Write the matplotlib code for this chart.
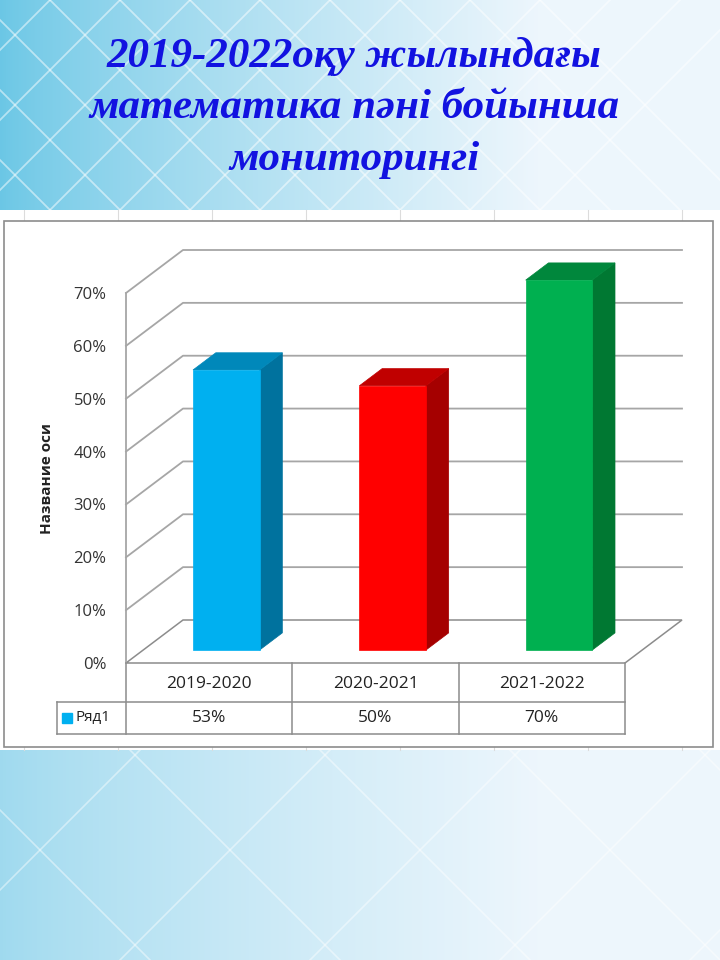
import numpy as np
import matplotlib.pyplot as plt
from matplotlib.patches import Polygon, Rectangle

# data
categories = ["2019-2020", "2020-2021", "2021-2022"]
values = [53, 50, 70]
value_labels = ["53%", "50%", "70%"]
series_name = "Ряд1"
yticks = [0, 10, 20, 30, 40, 50, 60, 70]
title_lines = ["2019-2022оқу жылындағы", "математика пәні бойынша", "мониторингі"]
axis_title = "Название оси"

front_colors = ["#00B0F0", "#FF0000", "#00B050"]
side_colors = ["#00729E", "#A50000", "#007832"]
top_colors = ["#0088BA", "#C00000", "#00873C"]

W, H = 720, 960
fig = plt.figure(figsize=(W / 100, H / 100), dpi=100)

# ---- slide background -------------------------------------------------
bg = fig.add_axes([0, 0, 1, 1])
bg.set_xlim(0, W)
bg.set_ylim(H, 0)
bg.axis("off")
gx = np.linspace(0, 1, 240)
gy = np.linspace(0, 1, 320)
X, Y = np.meshgrid(gx, gy)
t = np.clip(X / 0.75, 0, 1) ** 0.8
t = np.where(Y > 0.7, 0.4 + 0.6 * t, t)   # lower part of the slide is paler
left = np.array([0.42, 0.78, 0.90])
right = np.array([0.93, 0.965, 0.99])
img = left[None, None, :] * (1 - t[..., None]) + right[None, None, :] * t[..., None]
bg.imshow(img, extent=(0, W, H, 0), aspect="auto", zorder=0)
for x0 in range(-300, 560, 70):
    bg.plot([x0, x0 + 210], [0, 210], color="white", lw=1.3, alpha=0.5, zorder=1)
    bg.plot([x0 + 210, x0], [0, 210], color="white", lw=1.3, alpha=0.5, zorder=1)
for x0 in range(-300, 800, 190):
    bg.plot([x0, x0 + 300], [700, H + 40], color="white", lw=1.2, alpha=0.45, zorder=1)
    bg.plot([x0 + 300, x0], [700, H + 40], color="white", lw=1.2, alpha=0.45, zorder=1)
bg.add_patch(Rectangle((0, 210), W, 540, facecolor="white", edgecolor="none", zorder=2))
for gxl in range(24, W, 94):
    bg.plot([gxl, gxl], [210, 221], color="#dcdcdc", lw=0.8, zorder=2)
    bg.plot([gxl, gxl], [747, 750], color="#dcdcdc", lw=0.8, zorder=2)
bg.add_patch(Rectangle((4, 221), 709, 526, facecolor="white", edgecolor="#8c8c8c", lw=1.2, zorder=3))

for i, line in enumerate(title_lines):
    fig.text(0.492, 1 - (56 + 52 * i) / H, line, ha="center", va="center",
             fontsize=31, fontweight="bold", fontstyle="italic",
             family="Liberation Serif", color="#1212E0", zorder=5)

# ---- 3D-ish column chart ---------------------------------------------
PXX = 499 / 3      # pixels per category on the front plane
PXY = 370 / 70     # pixels per percent on the front plane
DX, DY = 57 / PXX, 43 / PXY   # depth offset of the back wall (data units)
x_left, y_base = 126, 663
ymax = 70
ax_w = (3 + DX) * PXX
ax_h = (ymax + DY) * PXY
ax = fig.add_axes([x_left / W, 1 - y_base / H, ax_w / W, ax_h / H])
ax.set_xlim(0, 3 + DX)
ax.set_ylim(0, ymax + DY)
ax.patch.set_alpha(0)
for s in ax.spines.values():
    s.set_visible(False)
ax.set_xticks([])
ax.set_yticks(yticks)
ax.set_yticklabels([f"{v}%" for v in yticks], fontsize=12, color="#333333", family="Open Sans")
ax.tick_params(axis="y", length=0, pad=14)
ax.set_ylabel(axis_title, fontsize=11, fontweight="bold", family="Open Sans", color="#222222")
ax.yaxis.set_label_coords(-79 / ax_w, (ymax / 2) / (ymax + DY))
ax.yaxis.label.set_verticalalignment("center")


def P(x, y, d):
    return (x + d * DX, y + d * DY)


grid_c = "#a6a6a6"
# floor
ax.add_patch(Polygon([P(0, 0, 0), P(3, 0, 0), P(3, 0, 1), P(0, 0, 1)], closed=True,
                     facecolor="white", edgecolor="#8c8c8c", lw=1.1, clip_on=False, zorder=1))
# walls
for v in yticks[1:]:
    a, b = P(0, v, 0), P(0, v, 1)
    c = P(3, v, 1)
    ax.plot([a[0], b[0], c[0]], [a[1], b[1], c[1]], color=grid_c, lw=1.3, clip_on=False, zorder=1)
ax.plot([0, 0], [0, ymax], color=grid_c, lw=1.3, clip_on=False, zorder=1)

# bars
d0, d1 = 0.3, 0.7
bw0, bw1 = 0.3, 0.7
for i, v in enumerate(values):
    xa, xb = i + bw0, i + bw1
    front = [P(xa, 0, d0), P(xb, 0, d0), P(xb, v, d0), P(xa, v, d0)]
    side = [P(xb, 0, d0), P(xb, 0, d1), P(xb, v, d1), P(xb, v, d0)]
    top = [P(xa, v, d0), P(xb, v, d0), P(xb, v, d1), P(xa, v, d1)]
    ax.add_patch(Polygon(side, closed=True, facecolor=side_colors[i], edgecolor=side_colors[i], lw=0.5, zorder=3))
    ax.add_patch(Polygon(top, closed=True, facecolor=top_colors[i], edgecolor=top_colors[i], lw=0.5, zorder=3))
    ax.add_patch(Polygon(front, closed=True, facecolor=front_colors[i], edgecolor=front_colors[i], lw=0.5, zorder=4))

# data table under the chart
r1 = -39 / PXY
r2 = -71 / PXY
lx = (57 - x_left) / PXX
tc = "#8c8c8c"
for xv in range(4):
    ax.plot([xv, xv], [0, r2], color=tc, lw=1.1, clip_on=False)
ax.plot([lx, 3], [r1, r1], color=tc, lw=1.1, clip_on=False)
ax.plot([lx, 3], [r2, r2], color=tc, lw=1.1, clip_on=False)
ax.plot([lx, lx], [r1, r2], color=tc, lw=1.1, clip_on=False)
for i, cat in enumerate(categories):
    ax.text(i + 0.5, r1 / 2 - 0.3, cat, ha="center", va="center", fontsize=12.5,
            family="Open Sans", color="#222222", clip_on=False)
    ax.text(i + 0.5, (r1 + r2) / 2, value_labels[i], ha="center", va="center", fontsize=12.5,
            family="Open Sans", color="#222222", clip_on=False)
ax.plot([lx + 10 / PXX], [(r1 + r2) / 2], marker="s", ms=7, color=front_colors[0],
        ls="none", clip_on=False)
ax.text(lx + 19 / PXX, (r1 + r2) / 2, series_name, ha="left", va="center", fontsize=11,
        family="Open Sans", color="#222222", clip_on=False)

fig.savefig("out.png", dpi=100)
